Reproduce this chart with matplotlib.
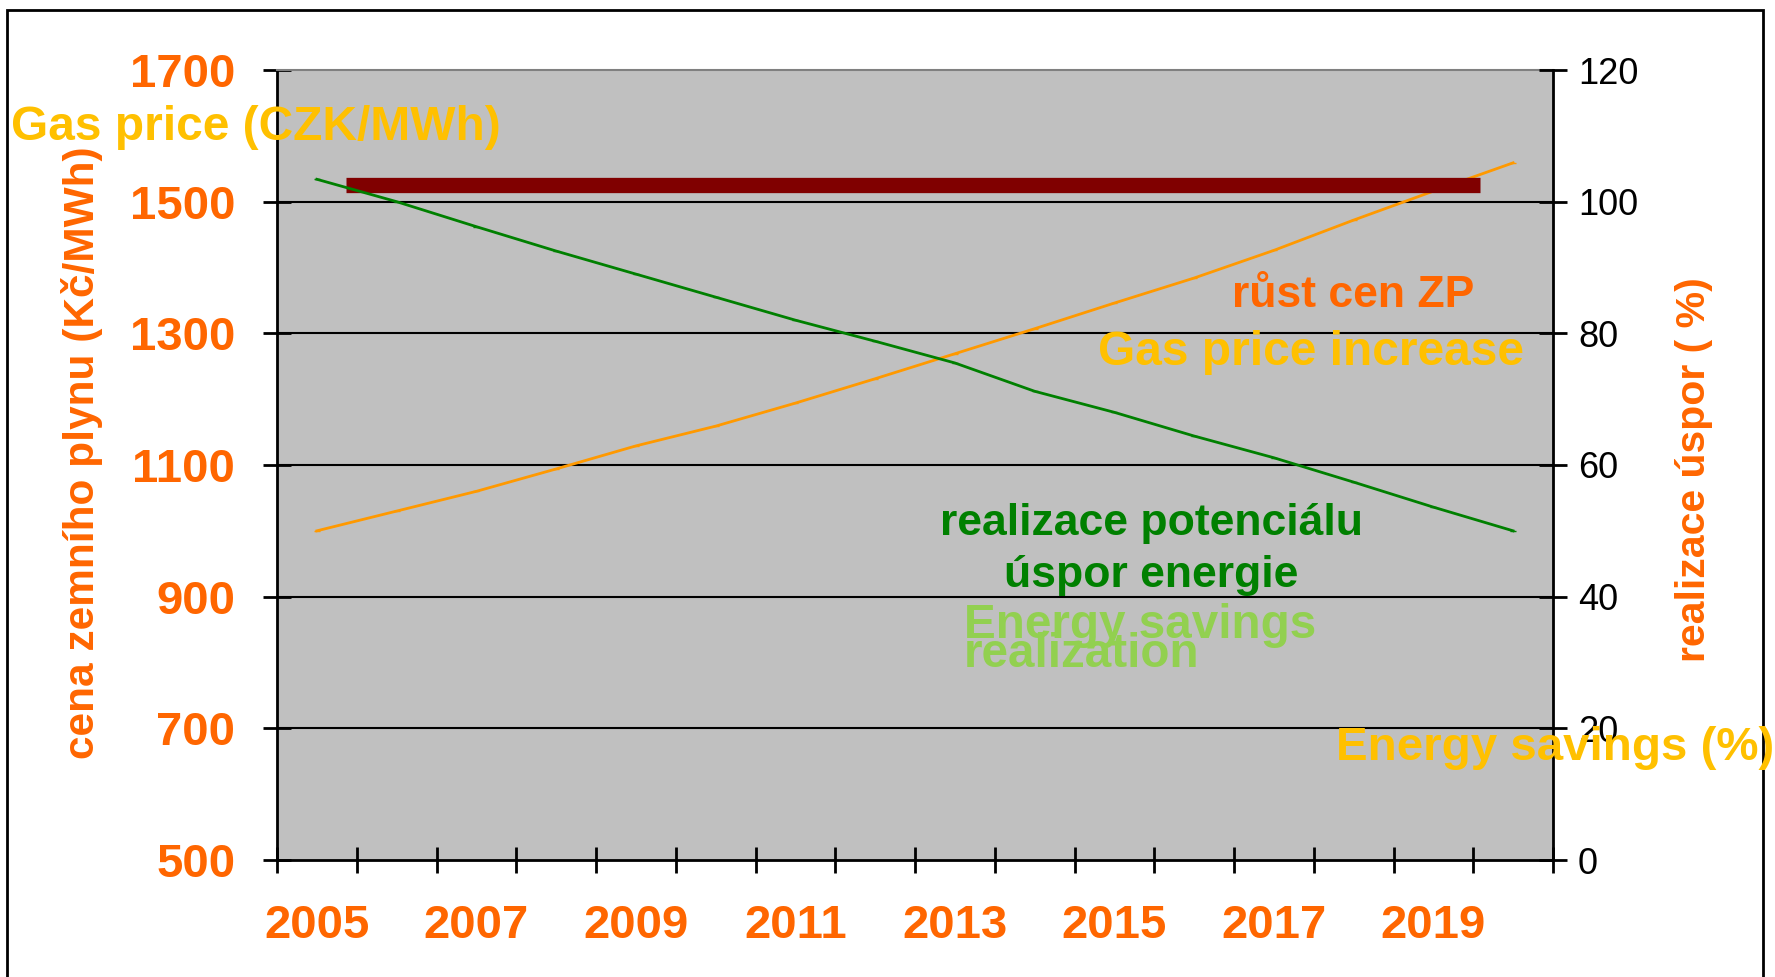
import matplotlib
matplotlib.use("Agg")
import matplotlib.pyplot as plt
from matplotlib.patches import Rectangle
import numpy as np

plt.rcParams['font.family'] = ['Liberation Sans', 'DejaVu Sans']

# data
years = list(range(2005, 2021))
gas_price = [1000, 1030, 1060, 1094, 1129, 1159, 1194, 1231, 1269, 1307, 1346, 1384, 1426, 1472, 1516, 1559]
savings = [103.4, 100.0, 96.2, 92.5, 89.0, 85.5, 82.0, 78.8, 75.5, 71.2, 68.0, 64.4, 61.1, 57.4, 53.6, 50.0]
target_level = 102.6          # dark red bar, right axis (%)
target_from = 0.87            # in category units
target_to = 15.08
left_ticks = [500, 700, 900, 1100, 1300, 1500, 1700]
right_ticks = [0, 20, 40, 60, 80, 100, 120]
year_labels = [str(y) for y in years[::2]]

W, H = 1775, 977
ORANGE = '#FF6600'
YELLOW = '#FFC000'

fig = plt.figure(figsize=(W / 100, H / 100), dpi=100)
fig.patch.set_facecolor('white')

ax = fig.add_axes([277 / W, 1 - 860 / H, (1553 - 277) / W, (860 - 70) / H])
ax.set_facecolor('#C0C0C0')
ax.set_xlim(0, len(years))
ax.set_ylim(500, 1700)
ax2 = ax.twinx()
ax2.set_ylim(0, 120)

x = np.arange(len(years)) + 0.5

ax2.plot([target_from, target_to], [target_level, target_level], color='#800000',
         lw=11, solid_capstyle='butt', zorder=2)
ax.plot(x, gas_price, color='#FF9900', lw=2, marker='_', ms=5, zorder=3)
ax2.plot(x, savings, color='#008000', lw=2, marker='_', ms=5, zorder=3)

# left axis
ax.set_yticks(left_ticks)
ax.set_yticklabels([str(v) for v in left_ticks])
ax.tick_params(axis='y', direction='inout', length=20, width=2, color='black',
               labelcolor=ORANGE, labelsize=34, pad=20)
for lab in ax.get_yticklabels():
    lab.set_fontweight('bold')
ax.yaxis.grid(True, color='black', lw=1.5)
ax.set_axisbelow(True)

# category x axis: ticks on boundaries, labels on every other category
ax.set_xticks(np.arange(len(years) + 1))
ax.set_xticklabels([])
ax.set_xticks(x[::2], minor=True)
ax.set_xticklabels(year_labels, minor=True)
ax.tick_params(axis='x', which='major', direction='inout', length=19, width=2)
ax.tick_params(axis='x', which='minor', length=0, pad=32, labelsize=34, labelcolor=ORANGE)
for lab in ax.get_xticklabels(minor=True):
    lab.set_fontweight('bold')

# right axis
ax2.set_yticks(right_ticks)
ax2.tick_params(axis='y', direction='inout', length=20, width=2, labelsize=26,
                labelcolor='black', pad=8)

for sp in ['left', 'bottom']:
    ax.spines[sp].set_linewidth(2)
ax.spines['top'].set_color('#808080')
ax.spines['top'].set_linewidth(1.5)
ax.spines['right'].set_visible(False)
ax2.spines['right'].set_linewidth(2)
ax2.spines['top'].set_visible(False)
ax2.spines['left'].set_visible(False)
ax2.spines['bottom'].set_visible(False)

fig.canvas.draw()
ax.get_ygridlines()[-1].set_visible(False)
ax.get_ygridlines()[0].set_visible(False)


def fx(px):
    return px / W


def fy(py):
    return 1 - py / H


# axis titles
fig.text(fx(82), fy(453), 'cena zemního plynu (Kč/MWh)', rotation=90, ha='center', va='center',
         color=ORANGE, fontsize=30.5, fontweight='bold')
fig.text(fx(1694), fy(470), 'realizace úspor ( %)', rotation=90, ha='center', va='center',
         color=ORANGE, fontsize=29.5, fontweight='bold')

# annotations
fig.text(fx(11), fy(140), 'Gas price (CZK/MWh)', ha='left', va='baseline',
         color=YELLOW, fontsize=34.5, fontweight='bold')
fig.text(fx(1353), fy(307), 'růst cen ZP', ha='center', va='baseline',
         color=ORANGE, fontsize=32, fontweight='bold')
fig.text(fx(1311), fy(365), 'Gas price increase', ha='center', va='baseline',
         color=YELLOW, fontsize=34.5, fontweight='bold')
fig.text(fx(1151), fy(535), 'realizace potenciálu', ha='center', va='baseline',
         color='#008000', fontsize=32, fontweight='bold')
fig.text(fx(1151), fy(587), 'úspor energie', ha='center', va='baseline',
         color='#008000', fontsize=32, fontweight='bold')
fig.text(fx(964), fy(638), 'Energy savings', ha='left', va='baseline',
         color='#92D050', fontsize=34.3, fontweight='bold')
fig.text(fx(964), fy(667), 'realization', ha='left', va='baseline',
         color='#92D050', fontsize=34.3, fontweight='bold')
fig.text(fx(1336), fy(760), 'Energy savings (%)', ha='left', va='baseline',
         color=YELLOW, fontsize=34.2, fontweight='bold')

# outer frame
fig.add_artist(Rectangle((fx(7), -0.05), fx(1763 - 7), fy(10) + 0.05, transform=fig.transFigure,
                         fill=False, ec='black', lw=2))

fig.savefig('out.png', dpi=100)
